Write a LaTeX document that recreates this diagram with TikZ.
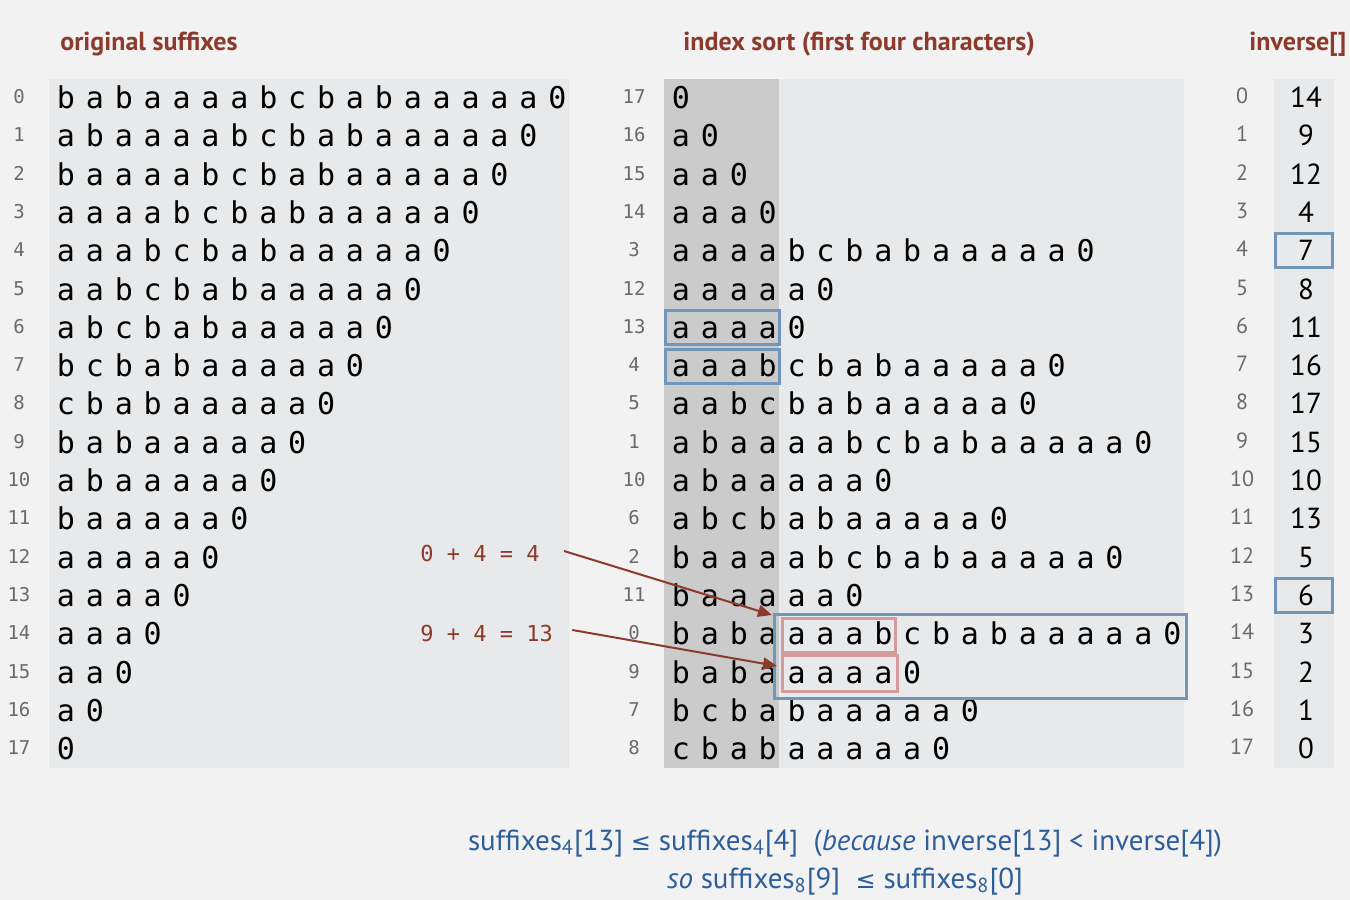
\documentclass[tikz,border=0pt]{standalone}
\usepackage{fontspec}
\setmainfont{PT Sans}
\newfontfamily\monof{DejaVu Sans Mono}
\newfontfamily\dejav{DejaVu Sans}
\usetikzlibrary{arrows.meta}
\definecolor{bgc}{HTML}{F2F2F2}
\definecolor{panelc}{HTML}{E8E9EA}
\definecolor{darkc}{HTML}{CBCBCB}
\definecolor{titlered}{HTML}{8C3A2C}
\definecolor{boxblue}{HTML}{7196BA}
\definecolor{boxred}{HTML}{D49B9B}
\definecolor{textblue}{HTML}{2E5E9A}
\definecolor{idxgray}{HTML}{6A6A6A}
\newcommand\sch[1]{\ifcase#1 b\or a\or b\or a\or a\or a\or a\or b\or c\or b\or a\or b\or a\or a\or a\or a\or a\or 0\fi}
\begin{document}
\begin{tikzpicture}[x=0.5pt,y=-0.5pt,
  ch/.style={font=\monof\fontsize{15}{15}\selectfont, inner sep=0, anchor=base},
  idx/.style={font=\monof\fontsize{9.5}{10}\selectfont, text=idxgray, inner sep=0, anchor=base},
  invnum/.style={font=\fontsize{14.5}{15}\selectfont, inner sep=0, anchor=base},
  title/.style={font=\bfseries\fontsize{13}{13}\selectfont, text=titlered, inner sep=0, anchor=base west},
  sumlab/.style={font=\monof\fontsize{11}{11}\selectfont, text=titlered, inner sep=0, anchor=base west},
  bbox/.style={draw=boxblue, line width=1.5pt},
  rbox/.style={draw=boxred, line width=1.5pt},
  arr/.style={draw=titlered, line width=1pt, -{Triangle[length=7pt,width=6pt]}},
  note/.style={font=\fontsize{14.5}{15}\selectfont, text=textblue, inner sep=0, anchor=base}]
\fill[bgc] (0,0) rectangle (1350,900);
\useasboundingbox (0,0) rectangle (1350,900);
% panels
\fill[panelc] (49,79) rectangle (569,768);
\fill[panelc] (664,79) rectangle (1184,768);
\fill[darkc] (664,79) rectangle (779,768);
\fill[panelc] (1274,79) rectangle (1334,768);
% titles
\node[title] (t1) at (60,50) {original suffixes};
\node[title] (t2) at (683,50) {index sort (first four characters)};
\node[title] (t3) at (1249,50) {inverse[]};
% left column
\foreach \r in {0,...,17} {
  \node[idx] (li\r) at (19,{97+\r*38.3+6.5}) {\r};
  \foreach \j in {\r,...,17} {
    \node[ch] (l\r-\j) at ({66+(\j-\r)*28.9},{97+\r*38.3+11.5}) {\sch{\j}};
  }
}
% middle column
\foreach \p [count=\kk from 0] in {17,16,15,14,3,12,13,4,5,1,10,6,2,11,0,9,7,8} {
  \node[idx] (mi\kk) at (634,{97+\kk*38.3+6.5}) {\p};
  \foreach \j in {\p,...,17} {
    \node[ch] (m\kk-\j) at ({681+(\j-\p)*28.9},{97+\kk*38.3+11.5}) {\sch{\j}};
  }
}
% right column
\foreach \v [count=\kk from 0] in {14,9,12,4,7,8,11,16,17,15,10,13,5,6,3,2,1,0} {
  \pgfmathtruncatemacro\kn{\kk}
  \node[idx, font=\fontsize{11}{11}\selectfont] (ri\kk) at (1242,{97+\kk*38.3+6.5}) {\kn};
  \node[invnum] (rv\kk) at (1306,{97+\kk*38.3+10.5}) {\v};
}
% boxes
\draw[bbox] (665,310) rectangle (779,344);
\draw[bbox] (665,349) rectangle (779,383);
\draw[bbox] (1275,233) rectangle (1332,267);
\draw[bbox] (1275,578) rectangle (1332,612);
\draw[bbox] (774,614) rectangle (1186,698);
\draw[rbox] (782,618) rectangle (895,652);
\draw[rbox] (782,655) rectangle (897,691);
% labels and arrows
\node[sumlab] (s1) at (420,561) {0 + 4 = 4};
\node[sumlab] (s2) at (420,641) {9 + 4 = 13};
\coordinate (e1) at (772,615);
\coordinate (e2) at (777,666);
\draw[arr] ([xshift=12pt,yshift=1pt]s1.east) -- (e1);
\draw[arr] ([xshift=9.5pt,yshift=1.5pt]s2.east) -- (e2);
% bottom notes
\node[note] (n1) at (845,850) {suffixes\textsubscript{4}[13] {\dejav\fontsize{12}{12}\selectfont ≤} suffixes\textsubscript{4}[4] \ (\textit{because} inverse[13] < inverse[4])};
\node[note] (n2) at (845,888) {\textit{so} suffixes\textsubscript{8}[9] \ {\dejav\fontsize{12}{12}\selectfont ≤} suffixes\textsubscript{8}[0]};
\end{tikzpicture}
\end{document}
